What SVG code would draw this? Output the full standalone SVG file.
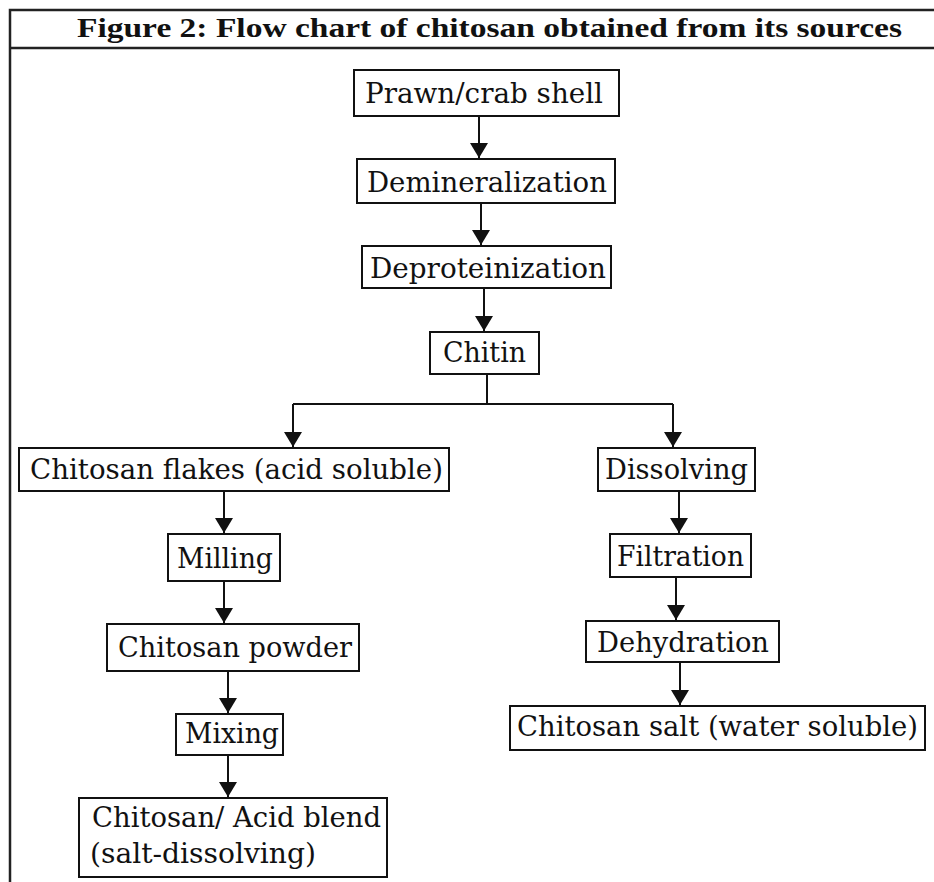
<svg xmlns="http://www.w3.org/2000/svg" width="934" height="882" viewBox="0 0 934 882">
<style>
.frame{stroke:#222;stroke-width:2.5;fill:none}
.box{fill:#fff;stroke:#111;stroke-width:2}
.lbl{font-family:"DejaVu Serif","Liberation Serif",serif;font-size:28px;fill:#111}
.title{font-family:"Liberation Serif","DejaVu Serif",serif;font-weight:bold;font-size:28px;fill:#111}
.conn{stroke:#111;stroke-width:2;fill:none}
</style>
<defs>
<marker id="ah" markerUnits="userSpaceOnUse" viewBox="0 0 15 18" markerWidth="15" markerHeight="18" refX="15" refY="9" orient="auto">
<path d="M0,0 L15,9 L0,18 z" fill="#111"/>
</marker>
</defs>
<rect width="934" height="882" fill="#fff"/>
<g id="frame">
<path class="frame" d="M10,882 V10 H934"/>
<path class="frame" d="M10,48 H934"/>
<text class="title" x="77" y="37" textLength="825" lengthAdjust="spacingAndGlyphs">Figure 2: Flow chart of chitosan obtained from its sources</text>
</g>
<g id="connectors">
<line class="conn" x1="479" y1="116" x2="479" y2="158" marker-end="url(#ah)"/>
<line class="conn" x1="481" y1="203" x2="481" y2="245" marker-end="url(#ah)"/>
<line class="conn" x1="484" y1="288" x2="484" y2="331" marker-end="url(#ah)"/>
<path class="conn" d="M487,374 V404 M293,404 H673"/>
<line class="conn" x1="293" y1="404" x2="293" y2="447" marker-end="url(#ah)"/>
<line class="conn" x1="673" y1="404" x2="673" y2="447" marker-end="url(#ah)"/>
<line class="conn" x1="224" y1="491" x2="224" y2="533" marker-end="url(#ah)"/>
<line class="conn" x1="224" y1="581" x2="224" y2="623" marker-end="url(#ah)"/>
<line class="conn" x1="228" y1="671" x2="228" y2="713" marker-end="url(#ah)"/>
<line class="conn" x1="228" y1="755" x2="228" y2="797" marker-end="url(#ah)"/>
<line class="conn" x1="679" y1="491" x2="679" y2="533" marker-end="url(#ah)"/>
<line class="conn" x1="676" y1="577" x2="676" y2="620" marker-end="url(#ah)"/>
<line class="conn" x1="680" y1="662" x2="680" y2="705" marker-end="url(#ah)"/>
</g>
<g id="n1"><rect class="box" x="354" y="70" width="265" height="46"/><text class="lbl" x="365" y="103" textLength="238" lengthAdjust="spacingAndGlyphs">Prawn/crab shell</text></g>
<g id="n2"><rect class="box" x="357" y="159" width="258" height="44"/><text class="lbl" x="367" y="192" textLength="240" lengthAdjust="spacingAndGlyphs">Demineralization</text></g>
<g id="n3"><rect class="box" x="362" y="246" width="249" height="42"/><text class="lbl" x="370" y="278" textLength="236" lengthAdjust="spacingAndGlyphs">Deproteinization</text></g>
<g id="n4"><rect class="box" x="430" y="332" width="109" height="42"/><text class="lbl" x="443" y="362" textLength="83" lengthAdjust="spacingAndGlyphs">Chitin</text></g>
<g id="n5"><rect class="box" x="19" y="448" width="430" height="43"/><text class="lbl" x="30" y="479" textLength="413" lengthAdjust="spacingAndGlyphs">Chitosan flakes (acid soluble)</text></g>
<g id="n6"><rect class="box" x="598" y="448" width="157" height="43"/><text class="lbl" x="605" y="479" textLength="143" lengthAdjust="spacingAndGlyphs">Dissolving</text></g>
<g id="n7"><rect class="box" x="168" y="534" width="112" height="47"/><text class="lbl" x="177" y="568" textLength="96" lengthAdjust="spacingAndGlyphs">Milling</text></g>
<g id="n8"><rect class="box" x="610" y="534" width="141" height="43"/><text class="lbl" x="617" y="566" textLength="127" lengthAdjust="spacingAndGlyphs">Filtration</text></g>
<g id="n9"><rect class="box" x="107" y="624" width="252" height="47"/><text class="lbl" x="118" y="657" textLength="234" lengthAdjust="spacingAndGlyphs">Chitosan powder</text></g>
<g id="n10"><rect class="box" x="586" y="621" width="193" height="41"/><text class="lbl" x="597" y="652" textLength="172" lengthAdjust="spacingAndGlyphs">Dehydration</text></g>
<g id="n11"><rect class="box" x="176" y="714" width="107" height="41"/><text class="lbl" x="185" y="743" textLength="94" lengthAdjust="spacingAndGlyphs">Mixing</text></g>
<g id="n12"><rect class="box" x="510" y="706" width="415" height="44"/><text class="lbl" x="517" y="736" textLength="401" lengthAdjust="spacingAndGlyphs">Chitosan salt (water soluble)</text></g>
<g id="n13"><rect class="box" x="79" y="798" width="308" height="79"/><text class="lbl" x="92" y="827" textLength="289" lengthAdjust="spacingAndGlyphs">Chitosan/ Acid blend</text><text class="lbl" x="90" y="863" textLength="226" lengthAdjust="spacingAndGlyphs">(salt-dissolving)</text></g>
</svg>
